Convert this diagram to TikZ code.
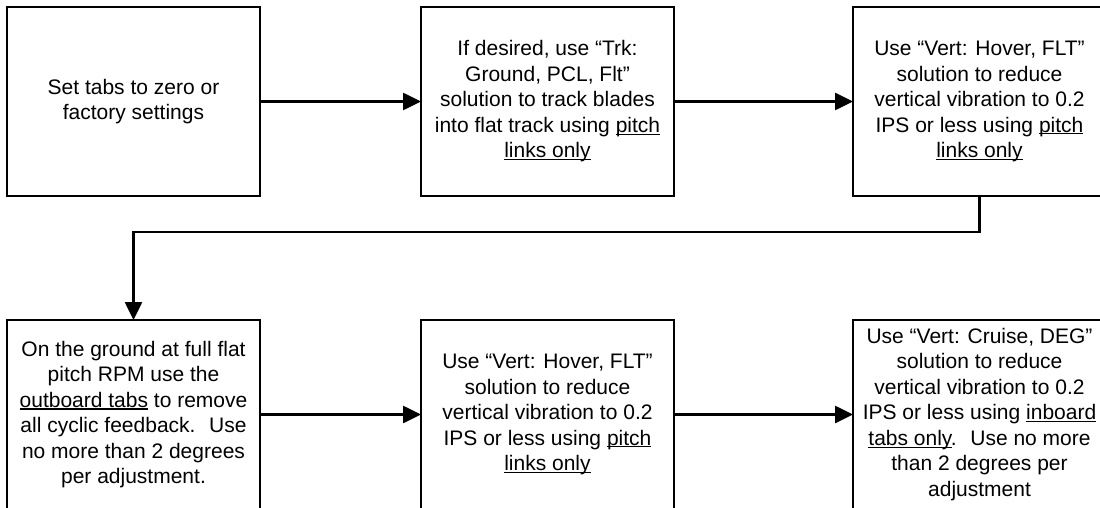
\documentclass[tikz,border=0pt]{standalone}
\usepackage{fontspec}
\setmainfont{Liberation Sans}
\usetikzlibrary{positioning}
\usetikzlibrary{arrows.meta}
\newcommand{\undr}[1]{\setbox0\hbox{#1}\rlap{\rule[-2.4pt]{\wd0}{1.3pt}}#1}

\begin{document}
\begin{tikzpicture}[
        x=1pt, y=1pt,
        STEP/.style={rectangle, draw=black, line width=2.8pt, fill=white, minimum width=253pt, minimum height=189pt, inner sep=0pt, outer sep=0pt, align=center, font=\fontsize{21}{25.5}\selectfont},
        FLOW/.style={draw=black, line width=2.6pt, -{Triangle[length=18pt, width=17pt]}},
        ]
            \clip (0,0) rectangle (1100,-508);

            \node[STEP] (S1) at (133.5,-101.5) {Set tabs to zero or\\
                            factory settings};
            \node[STEP, right=161pt of S1] (S2) {If desired, use “Trk:\\
                            Ground, PCL, Flt”\\
                            solution to track blades\\
                            into flat track using \undr{pitch}\\
                            \undr{links only}};
            \node[STEP, right=179pt of S2] (S3) {Use “Vert: Hover, FLT”\\
                            solution to reduce\\
                            vertical vibration to 0.2\\
                            IPS or less using \undr{pitch}\\
                            \undr{links only}};
            \node[STEP, below=124pt of S1] (S4) {On the ground at full flat\\
                            pitch RPM use the\\
                            \undr{outboard tabs} to remove\\
                            all cyclic feedback.~ Use\\
                            no more than 2 degrees\\
                            per adjustment.};
            \node[STEP, below=124pt of S2] (S5) {Use “Vert: Hover, FLT”\\
                            solution to reduce\\
                            vertical vibration to 0.2\\
                            IPS or less using \undr{pitch}\\
                            \undr{links only}};
            \node[STEP, below=124pt of S3] (S6) {Use “Vert: Cruise, DEG”\\
                            solution to reduce\\
                            vertical vibration to 0.2\\
                            IPS or less using \undr{inboard}\\
                            \undr{tabs only}.~ Use no more\\
                            than 2 degrees per\\
                            adjustment};

            \draw[FLOW] (S1) -- (S2);
            \draw[FLOW] (S2) -- (S3);
            \draw[FLOW] (S3.south) -- ++(0,-36) -| (S4.north);
            \draw[FLOW] (S4) -- (S5);
            \draw[FLOW] (S5) -- (S6);
        \end{tikzpicture}
\end{document}
